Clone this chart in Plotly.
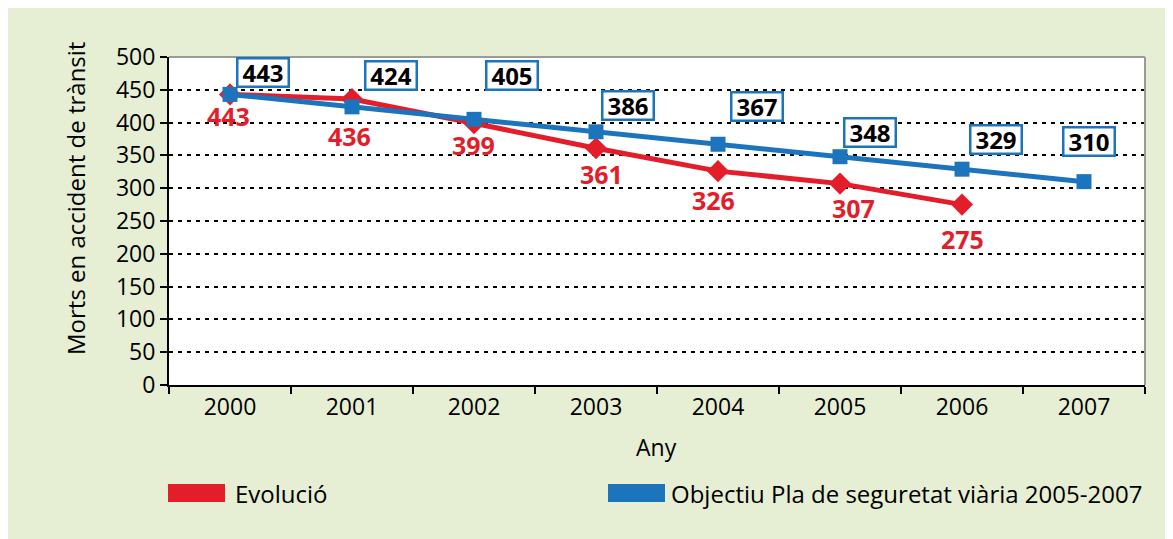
import plotly.graph_objects as go

years = ["2000", "2001", "2002", "2003", "2004", "2005", "2006", "2007"]
evolucio_years = ["2000", "2001", "2002", "2003", "2004", "2005", "2006"]
evolucio = [443, 436, 399, 361, 326, 307, 275]
objectiu = [443, 424, 405, 386, 367, 348, 329, 310]
y_ticks = [0, 50, 100, 150, 200, 250, 300, 350, 400, 450, 500]

name_red = "Evolució"
name_blue = "Objectiu Pla de seguretat viària 2005-2007"

# label offsets in pixels (style only)
blue_off = [(33, 22), (39, 31), (38, 44), (32, 26), (39, 38), (30, 24), (34, 30), (5, 40)]
red_off = [(-2, -22), (-3, -37), (-1, -22), (5, -26), (-5, -29), (13, -24), (0, -34)]

RED = "#E31E2A"
BLUE = "#1C75BC"
GREEN = "#E6EED4"
FONT = "Open Sans"

# page offset by the html body margin (8px)
OFF = 8
W, H = 1173 - OFF, 539 - OFF
L, R, T, B = 169, 1145, 57, 385  # plot area in page pixels
pw, ph = R - L, B - T


def px(x):
    return (x - L) / pw


def py(y):
    return (B - y) / ph


fig = go.Figure()
fig.add_trace(go.Scatter(
    x=evolucio_years, y=evolucio, mode="lines+markers", name=name_red,
    line=dict(color=RED, width=5), marker=dict(symbol="diamond", size=17, color=RED),
    showlegend=False, cliponaxis=False))
fig.add_trace(go.Scatter(
    x=years, y=objectiu, mode="lines+markers", name=name_blue,
    line=dict(color=BLUE, width=5), marker=dict(symbol="square", size=15, color=BLUE),
    showlegend=False, cliponaxis=False))

annotations = []
for yr, v, (dx, dy) in zip(years, objectiu, blue_off):
    annotations.append(dict(
        x=years.index(yr), y=v, xref="x", yref="y", text="<b>%d</b>" % v, showarrow=False,
        xanchor="center", yanchor="middle", width=49, height=26,
        xshift=dx, yshift=dy, bgcolor="white", bordercolor=BLUE, borderwidth=2.5,
        borderpad=0, font=dict(family=FONT, size=24, color="black")))
for yr, v, (dx, dy) in zip(evolucio_years, evolucio, red_off):
    annotations.append(dict(
        x=years.index(yr), y=v, xref="x", yref="y", text="<b>%d</b>" % v, showarrow=False,
        xanchor="center", yanchor="middle",
        xshift=dx, yshift=dy, font=dict(family=FONT, size=25, color=RED)))

# axis titles
annotations.append(dict(
    x=px(75), y=py(199), xref="paper", yref="paper", text="Morts en accident de trànsit",
    textangle=-90, showarrow=False, xanchor="center", yanchor="middle",
    font=dict(family=FONT, size=24, color="black")))
annotations.append(dict(
    x=px(656), y=py(447), xref="paper", yref="paper", text="Any",
    showarrow=False, xanchor="center", yanchor="middle",
    font=dict(family=FONT, size=23, color="black")))

# legend
annotations.append(dict(
    x=px(233), y=py(493), xref="paper", yref="paper", text=name_red,
    xanchor="left", yanchor="middle",
    showarrow=False, font=dict(family=FONT, size=24, color="black")))
annotations.append(dict(
    x=px(669), y=py(493), xref="paper", yref="paper", text=name_blue,
    xanchor="left", yanchor="middle",
    showarrow=False, font=dict(family=FONT, size=24, color="black")))

shapes = [
    dict(type="rect", xref="paper", yref="paper", x0=px(168), x1=px(225), y0=py(484), y1=py(502),
         fillcolor=RED, line=dict(width=0)),
    dict(type="rect", xref="paper", yref="paper", x0=px(608), x1=px(665), y0=py(484), y1=py(502),
         fillcolor=BLUE, line=dict(width=0)),
    dict(type="line", xref="paper", yref="paper", x0=0, x1=1, y0=1, y1=1,
         line=dict(color="#9a9a9a", width=2), layer="above"),
    dict(type="line", xref="paper", yref="paper", x0=1, x1=1, y0=0, y1=1,
         line=dict(color="#9a9a9a", width=2), layer="above"),
]

fig.update_layout(
    width=W, height=H,
    margin=dict(l=L - OFF, r=W - (R - OFF), t=T - OFF, b=H - (B - OFF), pad=0),
    paper_bgcolor=GREEN, plot_bgcolor="white",
    font=dict(family=FONT, size=23, color="black"),
    annotations=annotations, shapes=shapes, showlegend=False,
    xaxis=dict(type="category", categoryorder="array", categoryarray=years,
               tickson="boundaries", ticks="outside", ticklen=7, tickwidth=2, tickcolor="black",
               showline=True, linecolor="black", linewidth=2, showgrid=False,
               tickfont=dict(family=FONT, size=23), range=[-0.5, 7.5], fixedrange=True),
    yaxis=dict(range=[0, 500], tickvals=y_ticks, ticks="outside", ticklen=7, tickwidth=2,
               tickcolor="black", showline=True, linecolor="black", linewidth=2,
               showgrid=True, gridcolor="black", gridwidth=1.5, griddash="4px,5px",
               zeroline=False, tickfont=dict(family=FONT, size=23), fixedrange=True),
)

fig.write_html("out.html")
